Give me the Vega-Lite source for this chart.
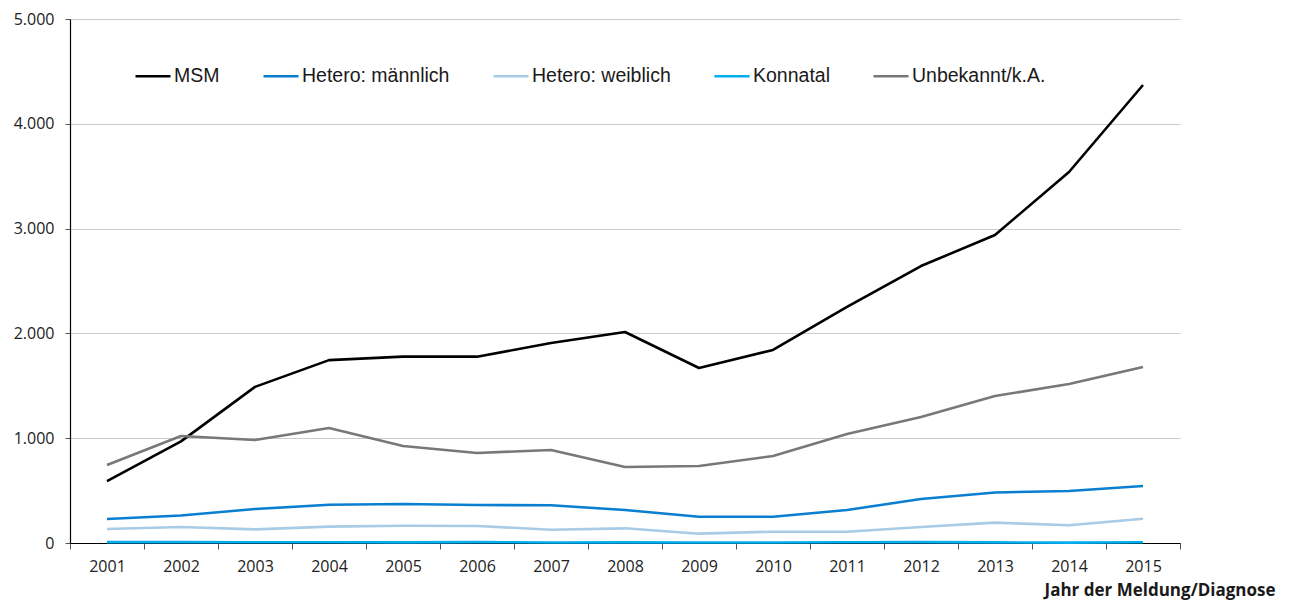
{
  "$schema": "https://vega.github.io/schema/vega-lite/v6.json",
  "width": 1110,
  "height": 524,
  "autosize": "none",
  "padding": {"left": 70, "top": 19, "right": 109, "bottom": 61},
  "background": "white",
  "config": {
    "locale": {"number": {"decimal": ",", "thousands": ".", "grouping": [3], "currency": ["", " €"]}},
    "view": {"stroke": null},
    "font": "Open Sans"
  },
  "data": {
    "values": [
      {"Jahr": "2001", "Gruppe": "MSM", "Anzahl": 590},
      {"Jahr": "2002", "Gruppe": "MSM", "Anzahl": 970},
      {"Jahr": "2003", "Gruppe": "MSM", "Anzahl": 1490},
      {"Jahr": "2004", "Gruppe": "MSM", "Anzahl": 1745},
      {"Jahr": "2005", "Gruppe": "MSM", "Anzahl": 1778},
      {"Jahr": "2006", "Gruppe": "MSM", "Anzahl": 1778},
      {"Jahr": "2007", "Gruppe": "MSM", "Anzahl": 1908},
      {"Jahr": "2008", "Gruppe": "MSM", "Anzahl": 2013},
      {"Jahr": "2009", "Gruppe": "MSM", "Anzahl": 1670},
      {"Jahr": "2010", "Gruppe": "MSM", "Anzahl": 1842},
      {"Jahr": "2011", "Gruppe": "MSM", "Anzahl": 2252},
      {"Jahr": "2012", "Gruppe": "MSM", "Anzahl": 2643},
      {"Jahr": "2013", "Gruppe": "MSM", "Anzahl": 2939},
      {"Jahr": "2014", "Gruppe": "MSM", "Anzahl": 3540},
      {"Jahr": "2015", "Gruppe": "MSM", "Anzahl": 4370},
      {"Jahr": "2001", "Gruppe": "Unbekannt/k.A.", "Anzahl": 744},
      {"Jahr": "2002", "Gruppe": "Unbekannt/k.A.", "Anzahl": 1021},
      {"Jahr": "2003", "Gruppe": "Unbekannt/k.A.", "Anzahl": 983},
      {"Jahr": "2004", "Gruppe": "Unbekannt/k.A.", "Anzahl": 1097},
      {"Jahr": "2005", "Gruppe": "Unbekannt/k.A.", "Anzahl": 926},
      {"Jahr": "2006", "Gruppe": "Unbekannt/k.A.", "Anzahl": 859},
      {"Jahr": "2007", "Gruppe": "Unbekannt/k.A.", "Anzahl": 887},
      {"Jahr": "2008", "Gruppe": "Unbekannt/k.A.", "Anzahl": 725},
      {"Jahr": "2009", "Gruppe": "Unbekannt/k.A.", "Anzahl": 735},
      {"Jahr": "2010", "Gruppe": "Unbekannt/k.A.", "Anzahl": 830},
      {"Jahr": "2011", "Gruppe": "Unbekannt/k.A.", "Anzahl": 1040},
      {"Jahr": "2012", "Gruppe": "Unbekannt/k.A.", "Anzahl": 1202},
      {"Jahr": "2013", "Gruppe": "Unbekannt/k.A.", "Anzahl": 1403},
      {"Jahr": "2014", "Gruppe": "Unbekannt/k.A.", "Anzahl": 1517},
      {"Jahr": "2015", "Gruppe": "Unbekannt/k.A.", "Anzahl": 1680},
      {"Jahr": "2001", "Gruppe": "Hetero: männlich", "Anzahl": 229},
      {"Jahr": "2002", "Gruppe": "Hetero: männlich", "Anzahl": 262},
      {"Jahr": "2003", "Gruppe": "Hetero: männlich", "Anzahl": 324},
      {"Jahr": "2004", "Gruppe": "Hetero: männlich", "Anzahl": 365},
      {"Jahr": "2005", "Gruppe": "Hetero: männlich", "Anzahl": 372},
      {"Jahr": "2006", "Gruppe": "Hetero: männlich", "Anzahl": 363},
      {"Jahr": "2007", "Gruppe": "Hetero: männlich", "Anzahl": 360},
      {"Jahr": "2008", "Gruppe": "Hetero: männlich", "Anzahl": 315},
      {"Jahr": "2009", "Gruppe": "Hetero: männlich", "Anzahl": 251},
      {"Jahr": "2010", "Gruppe": "Hetero: männlich", "Anzahl": 251},
      {"Jahr": "2011", "Gruppe": "Hetero: männlich", "Anzahl": 315},
      {"Jahr": "2012", "Gruppe": "Hetero: männlich", "Anzahl": 420},
      {"Jahr": "2013", "Gruppe": "Hetero: männlich", "Anzahl": 482},
      {"Jahr": "2014", "Gruppe": "Hetero: männlich", "Anzahl": 496},
      {"Jahr": "2015", "Gruppe": "Hetero: männlich", "Anzahl": 544},
      {"Jahr": "2001", "Gruppe": "Hetero: weiblich", "Anzahl": 134},
      {"Jahr": "2002", "Gruppe": "Hetero: weiblich", "Anzahl": 153},
      {"Jahr": "2003", "Gruppe": "Hetero: weiblich", "Anzahl": 130},
      {"Jahr": "2004", "Gruppe": "Hetero: weiblich", "Anzahl": 156},
      {"Jahr": "2005", "Gruppe": "Hetero: weiblich", "Anzahl": 165},
      {"Jahr": "2006", "Gruppe": "Hetero: weiblich", "Anzahl": 162},
      {"Jahr": "2007", "Gruppe": "Hetero: weiblich", "Anzahl": 127},
      {"Jahr": "2008", "Gruppe": "Hetero: weiblich", "Anzahl": 140},
      {"Jahr": "2009", "Gruppe": "Hetero: weiblich", "Anzahl": 89},
      {"Jahr": "2010", "Gruppe": "Hetero: weiblich", "Anzahl": 108},
      {"Jahr": "2011", "Gruppe": "Hetero: weiblich", "Anzahl": 108},
      {"Jahr": "2012", "Gruppe": "Hetero: weiblich", "Anzahl": 152},
      {"Jahr": "2013", "Gruppe": "Hetero: weiblich", "Anzahl": 194},
      {"Jahr": "2014", "Gruppe": "Hetero: weiblich", "Anzahl": 169},
      {"Jahr": "2015", "Gruppe": "Hetero: weiblich", "Anzahl": 232},
      {"Jahr": "2001", "Gruppe": "Konnatal", "Anzahl": 8},
      {"Jahr": "2002", "Gruppe": "Konnatal", "Anzahl": 8},
      {"Jahr": "2003", "Gruppe": "Konnatal", "Anzahl": 7},
      {"Jahr": "2004", "Gruppe": "Konnatal", "Anzahl": 7},
      {"Jahr": "2005", "Gruppe": "Konnatal", "Anzahl": 6},
      {"Jahr": "2006", "Gruppe": "Konnatal", "Anzahl": 8},
      {"Jahr": "2007", "Gruppe": "Konnatal", "Anzahl": 5},
      {"Jahr": "2008", "Gruppe": "Konnatal", "Anzahl": 6},
      {"Jahr": "2009", "Gruppe": "Konnatal", "Anzahl": 5},
      {"Jahr": "2010", "Gruppe": "Konnatal", "Anzahl": 5},
      {"Jahr": "2011", "Gruppe": "Konnatal", "Anzahl": 7},
      {"Jahr": "2012", "Gruppe": "Konnatal", "Anzahl": 8},
      {"Jahr": "2013", "Gruppe": "Konnatal", "Anzahl": 6},
      {"Jahr": "2014", "Gruppe": "Konnatal", "Anzahl": 4},
      {"Jahr": "2015", "Gruppe": "Konnatal", "Anzahl": 7}
    ]
  },
  "mark": {"type": "line", "strokeWidth": 2.6, "strokeJoin": "round", "clip": false},
  "encoding": {
    "x": {
      "field": "Jahr",
      "type": "ordinal",
      "scale": {"type": "band", "paddingInner": 0, "paddingOuter": 0},
      "axis": {
        "title": "Jahr der Meldung/Diagnose",
        "titleFont": "Open Sans",
        "titleFontWeight": "bold",
        "titleFontSize": 17,
        "titleColor": "#1a1a1a",
        "titleAnchor": "end",
        "titleAlign": "right",
        "titleBaseline": "top",
        "titleX": 1205,
        "titleY": 39,
        "labelAngle": 0,
        "labelFont": "Open Sans",
        "labelFontSize": 16,
        "labelColor": "#222222",
        "labelPadding": 9,
        "tickBand": "extent",
        "tickSize": 6,
        "tickColor": "#555555",
        "domainColor": "#000000",
        "domainWidth": 1.2,
        "grid": false
      }
    },
    "y": {
      "field": "Anzahl",
      "type": "quantitative",
      "scale": {"domain": [0, 5000], "nice": false},
      "axis": {
        "title": null,
        "values": [0, 1000, 2000, 3000, 4000, 5000],
        "format": ",d",
        "labelFont": "Open Sans",
        "labelFontSize": 16,
        "labelColor": "#222222",
        "labelPadding": 11,
        "tickSize": 5,
        "tickColor": "#555555",
        "domainColor": "#000000",
        "domainWidth": 1.2,
        "grid": true,
        "gridColor": "#cccccc",
        "gridWidth": 1
      }
    },
    "color": {
      "field": "Gruppe",
      "type": "nominal",
      "sort": ["MSM", "Hetero: männlich", "Hetero: weiblich", "Konnatal", "Unbekannt/k.A."],
      "scale": {
        "domain": ["MSM", "Hetero: männlich", "Hetero: weiblich", "Konnatal", "Unbekannt/k.A."],
        "range": ["#000000", "#0a7fd1", "#a8cbe6", "#00aeef", "#787878"]
      },
      "legend": {
        "title": null,
        "orient": "none",
        "legendX": 64,
        "legendY": 38,
        "direction": "horizontal",
        "columnPadding": 38,
        "symbolType": "stroke",
        "symbolSize": 1225,
        "symbolStrokeWidth": 2.6,
        "labelFont": "Liberation Sans",
        "labelFontSize": 19.5,
        "labelColor": "#1a1a1a",
        "labelOffset": 2,
        "labelLimit": 300
      }
    }
  }
}
